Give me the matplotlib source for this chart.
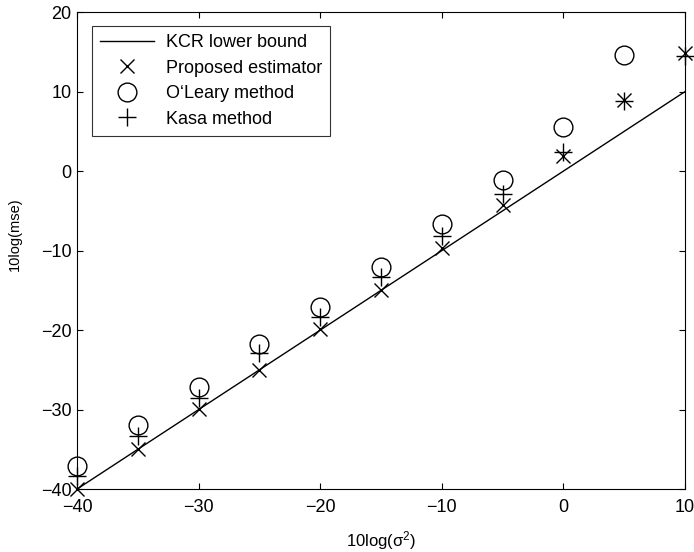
import numpy as np
import matplotlib
matplotlib.use("Agg")
import matplotlib.pyplot as plt

plt.rcParams.update({
    "font.family": ["Liberation Sans", "DejaVu Sans"],
    "font.size": 13,
    "mathtext.fontset": "custom",
    "mathtext.rm": "Liberation Sans",
    "mathtext.it": "Liberation Sans",
})

# noise power (dB) and mse (dB) for each estimator
sigma2_db = [-40, -35, -30, -25, -20, -15, -10, -5, 0, 5, 10]
kcr_bound = [-40, -35, -30, -25, -20, -15, -10, -5, 0, 5, 10]
proposed = [-40.0, -34.9, -29.9, -25.0, -19.9, -14.9, -9.7, -4.2, 1.9, 8.9, 14.9]
oleary = [-37.1, -32.0, -27.1, -21.8, -17.1, -12.0, -6.7, -1.1, 5.6, 14.6, np.nan]
kasa = [-38.4, -33.3, -28.5, -22.9, -18.4, -13.3, -8.1, -2.9, 2.4, 8.8, 14.5]

fig = plt.figure(figsize=(6.94, 5.52), dpi=100)
ax = fig.add_axes([0.111, 0.114, 0.876, 0.864])

ax.plot(sigma2_db, kcr_bound, "k-", lw=1.0, label="KCR lower bound")
ax.plot(sigma2_db, proposed, "kx", ms=9.5, mew=1.0, ls="none",
        label="Proposed estimator", clip_on=False)
ax.plot(sigma2_db, oleary, "ko", ms=13.5, mew=1.0, mfc="none", ls="none",
        label="O\u2018Leary method", clip_on=False)
ax.plot(sigma2_db, kasa, "k+", ms=13.5, mew=1.0, ls="none",
        label="Kasa method", clip_on=False)

ax.set_xlim(-40, 10)
ax.set_ylim(-40, 20)
ax.set_xticks([-40, -30, -20, -10, 0, 10])
ax.set_yticks([-40, -30, -20, -10, 0, 10, 20])
ax.tick_params(direction="in", top=True, right=True, length=4, width=0.8)
ax.tick_params(axis="x", pad=7.5)
ax.tick_params(axis="y", pad=4)
for s in ax.spines.values():
    s.set_linewidth(0.8)

ax.set_xlabel("10log(\u03c3$^2$)", fontsize=12)
ax.set_ylabel("10log(mse)", fontsize=10.5)
ax.xaxis.set_label_coords(0.5, -0.083)
ax.yaxis.set_label_coords(-0.09, 0.535)

leg = ax.legend(loc="upper left", bbox_to_anchor=(0.0247, 0.9706),
                borderaxespad=0, numpoints=1, fancybox=False,
                handlelength=3.0, handletextpad=0.65, labelspacing=0.47,
                borderpad=0.45, fontsize=13)
leg.get_frame().set_edgecolor("black")
leg.get_frame().set_linewidth(0.8)

fig.savefig("out.png", dpi=100)
